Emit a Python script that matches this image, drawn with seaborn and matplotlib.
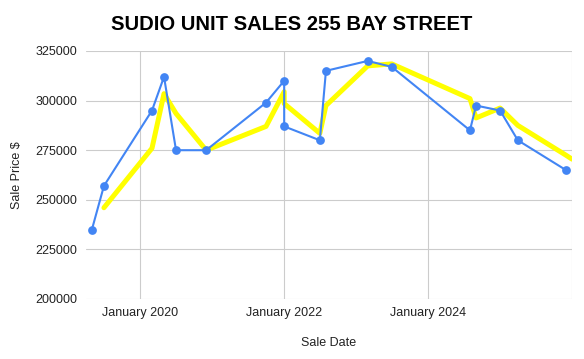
import pandas as pd
import numpy as np
import matplotlib.pyplot as plt
import seaborn as sns

# sale data
sale_dates = ['2019-05-01', '2019-07-01', '2020-03-01', '2020-05-01', '2020-07-01',
              '2020-12-01', '2021-10-01', '2022-01-01', '2022-01-01', '2022-07-01',
              '2022-08-01', '2023-03-01', '2023-07-01', '2024-08-01', '2024-09-01',
              '2025-01-01', '2025-04-01', '2025-12-01']
sale_prices = [235000, 257000, 295000, 312000, 275000,
               275000, 299000, 310000, 287000, 280000,
               315000, 320000, 317000, 285000, 297500,
               295000, 280000, 265000]

# yellow trend line (moving average) values
trend_dates = sale_dates[1:] + ['2026-01-01']
trend_values = [246000, 276000, 303500, 293500, 275000,
                287000, 304500, 298500, 283500, 297500,
                317500, 318500, 301000, 291250, 296250,
                287500, 272500, 270500]

tick_dates = ['2020-01-01', '2022-01-01', '2024-01-01', '2026-01-01']
tick_labels = ['January 2020', 'January 2022', 'January 2024', '']
y_ticks = [200000, 225000, 250000, 275000, 300000, 325000]

sales = pd.DataFrame({'date': pd.to_datetime(sale_dates), 'price': sale_prices})
trend = pd.DataFrame({'date': pd.to_datetime(trend_dates), 'price': trend_values})

sns.set_style('white')
plt.rcParams['font.family'] = ['Liberation Sans', 'DejaVu Sans']

fig = plt.figure(figsize=(5.84, 3.59), dpi=100)
ax = fig.add_axes([86/584, 1-299/359, (572-86)/584, (299-51)/359])

sns.lineplot(data=trend, x='date', y='price', estimator=None, sort=False,
             color='#FFFF00', linewidth=3.6, ax=ax, zorder=3)
sns.lineplot(data=sales, x='date', y='price', estimator=None, sort=False,
             color='#4285F4', linewidth=1.5, marker='o', markersize=6.3,
             markeredgewidth=0, ax=ax, zorder=4)

ax.set_xlim(pd.Timestamp('2019-04-01'), pd.Timestamp('2026-01-01'))
ax.set_ylim(200000, 325000)
ax.set_xticks(pd.to_datetime(tick_dates))
ax.set_xticklabels(tick_labels)
ax.set_yticks(y_ticks)
ax.set_yticklabels([str(v) for v in y_ticks])
ax.tick_params(length=0, labelsize=9, colors='#222222', pad=6)
ax.tick_params(axis='y', pad=6)
ax.grid(True, color='#cccccc', linewidth=0.8)
ax.set_axisbelow(True)
for s in ax.spines.values():
    s.set_visible(False)

ax.set_xlabel('Sale Date', fontsize=9, color='#222222', labelpad=13)
ax.set_ylabel('Sale Price $', fontsize=9, color='#222222', labelpad=9)
fig.suptitle('SUDIO UNIT SALES 255 BAY STREET', x=0.5, y=0.958,
             fontsize=14.6, fontweight='bold', color='#000000')

plt.savefig('out.png', dpi=100)
